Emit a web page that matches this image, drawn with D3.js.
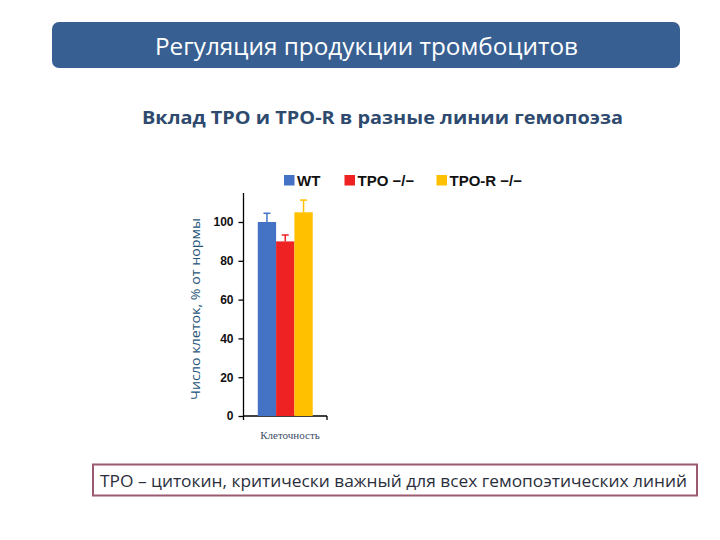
<!DOCTYPE html>
<html><head><meta charset="utf-8">
<script src="https://cdn.jsdelivr.net/npm/d3@7"></script>
<style>body{margin:0;background:#fff}</style>
</head><body>
<svg id="c" width="720" height="540"></svg>
<script>
const titleText = "Регуляция продукции тромбоцитов";
const subtitleText = "Вклад ТРО и ТРО-R в разные линии гемопоэза";
const footnoteText = "ТРО – цитокин, критически важный для всех гемопоэтических линий";
const categories = ["Клеточность"];
const seriesNames = ["WT", "TPO −/−", "TPO-R −/−"];
const seriesColors = ["#4472c4", "#ee2222", "#ffc000"];
const seriesValues = [100, 90, 105];
const seriesErrors = [4.5, 3.3, 6.3];
const yTicks = [0, 20, 40, 60, 80, 100];
const yLabel = "Число клеток, % от нормы";

const svg = d3.select("#c");

// Header box
svg.append("rect").attr("x", 52).attr("y", 22).attr("width", 628).attr("height", 46)
  .attr("rx", 7).attr("fill", "#385f92");
svg.append("text").attr("x", 155).attr("y", 55)
  .attr("font-family", "Open Sans, sans-serif").attr("font-size", 23).attr("fill", "#fff")
  .attr("textLength", 423).attr("lengthAdjust", "spacingAndGlyphs")
  .text(titleText);

svg.append("text").attr("x", 142).attr("y", 124)
  .attr("font-family", "Open Sans, sans-serif").attr("font-weight", "bold").attr("font-size", 18.5)
  .attr("textLength", 481).attr("lengthAdjust", "spacingAndGlyphs")
  .attr("fill", "#2e4a6e").text(subtitleText);

// Chart
const y = d3.scaleLinear().domain([0, 100]).range([416, 222]);
const x0 = d3.scaleBand().domain(categories).range([243.5, 327]).paddingInner(0).paddingOuter(0.26);
const x1 = d3.scaleBand().domain(seriesNames).range([0, x0.bandwidth()]).padding(0);

const g = svg.append("g");
// y axis
const yAxis = d3.axisLeft(y).tickValues(yTicks).tickSize(5).tickSizeOuter(0);
const ya = g.append("g").attr("transform", "translate(243.5,0)").call(yAxis);
ya.select(".domain").remove();
g.append("line").attr("x1", 243.5).attr("x2", 243.5).attr("y1", y(0)).attr("y2", 193)
  .attr("stroke", "#000").attr("stroke-width", 1.3);
ya.selectAll(".tick line").attr("stroke", "#000").attr("stroke-width", 1.3);
ya.selectAll(".tick text").attr("font-family", "Liberation Sans, Arial, sans-serif")
  .attr("font-weight", "bold").attr("font-size", 12).attr("fill", "#111").attr("x", -10);

// x axis
const xa = g.append("g").attr("transform", `translate(0,${y(0)})`)
  .call(d3.axisBottom(x0).tickSize(0).tickFormat(""));
xa.select(".domain").attr("stroke", "#000").attr("stroke-width", 1.3)
  .attr("d", "M243.5,0H327");
g.selectAll(".xt").data([243.5, 327]).join("line").attr("class", "xt")
  .attr("x1", d => d).attr("x2", d => d).attr("y1", y(0)).attr("y2", y(0) + 4)
  .attr("stroke", "#000").attr("stroke-width", 1.3);
g.append("text").attr("x", 290).attr("y", 439).attr("text-anchor", "middle")
  .attr("font-family", "Liberation Serif, serif").attr("font-size", 11).attr("fill", "#3b4d66")
  .text(categories[0]);

// bars
const data = seriesNames.map((n, i) => ({ name: n, v: seriesValues[i], e: seriesErrors[i], c: seriesColors[i] }));
const cx = x0(categories[0]);
g.selectAll(".err").data(data).join("g").each(function (d) {
  const xc = cx + x1(d.name) + x1.bandwidth() / 2;
  const s = d3.select(this);
  s.append("line").attr("x1", xc).attr("x2", xc).attr("y1", y(d.v)).attr("y2", y(d.v + d.e))
    .attr("stroke", d.c).attr("stroke-width", 1.5);
  s.append("line").attr("x1", xc - 3.5).attr("x2", xc + 3.5).attr("y1", y(d.v + d.e)).attr("y2", y(d.v + d.e))
    .attr("stroke", d.c).attr("stroke-width", 1.5);
});
g.selectAll(".bar").data(data).join("rect").attr("class", "bar")
  .attr("x", d => cx + x1(d.name)).attr("width", x1.bandwidth())
  .attr("y", d => y(d.v)).attr("height", d => y(0) - y(d.v)).attr("fill", d => d.c);

// y label
svg.append("text").attr("transform", "translate(200,309) rotate(-90)").attr("text-anchor", "middle")
  .attr("font-family", "Open Sans, sans-serif").attr("font-size", 12.5).attr("fill", "#255478")
  .attr("textLength", 182).attr("lengthAdjust", "spacingAndGlyphs")
  .text(yLabel);

// legend
const legX = [284, 344.5, 436.5];
const leg = svg.selectAll(".leg").data(data).join("g").attr("transform", (d, i) => `translate(${legX[i]},175)`);
leg.append("rect").attr("width", 10.5).attr("height", 10.5).attr("fill", d => d.c);
leg.append("text").attr("x", 13).attr("y", 11).attr("font-family", "Liberation Sans, Arial, sans-serif")
  .attr("font-weight", "bold").attr("font-size", 15).attr("fill", "#111").text(d => d.name);

// footnote box
svg.append("rect").attr("x", 93).attr("y", 464.5).attr("width", 604).attr("height", 31)
  .attr("fill", "#fff").attr("stroke", "#9b5a70").attr("stroke-width", 2);
svg.append("text").attr("x", 100).attr("y", 486.5).attr("font-family", "Open Sans, sans-serif")
  .attr("font-size", 16.5).attr("fill", "#2b2f3d")
  .attr("textLength", 587).attr("lengthAdjust", "spacingAndGlyphs")
  .text(footnoteText);
</script>
</body></html>
